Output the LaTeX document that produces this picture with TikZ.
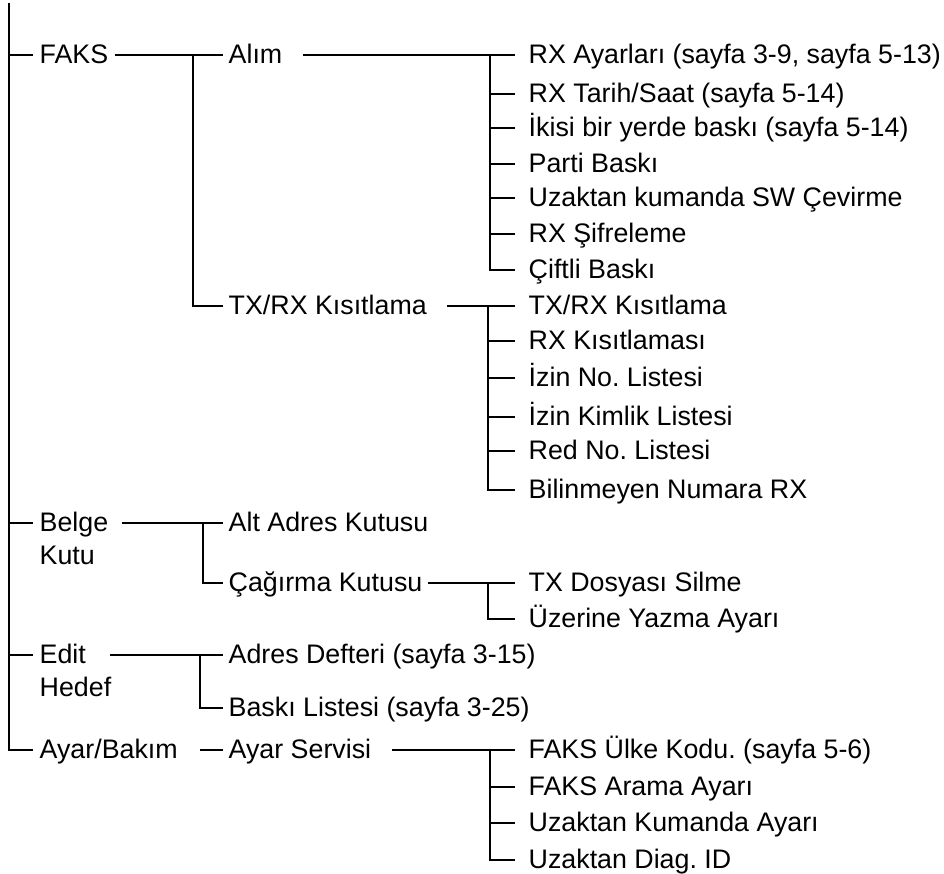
\documentclass[tikz,border=0pt]{standalone}
\usepackage{fontspec}
\setmainfont{Liberation Sans}
\usepackage{tikz}
\frenchspacing

\begin{document}
\begin{tikzpicture}[x=0.5pt, y=-0.5pt, line width=0.7pt,
  font=\fontsize{13.4pt}{16.5pt}\selectfont,
  item/.style={anchor=west, inner ysep=0pt, text height=8pt, text depth=0pt},
  topitem/.style={item, inner xsep=3pt},
  subitem/.style={item, inner xsep=2.5pt},
  leaf/.style={item, inner xsep=6.5pt}]
  \useasboundingbox (0,0) rectangle (944,874);
  \coordinate (root) at (9,3);

  % first level
  \node[topitem] (faks) at (33,55) {FAKS};
  \node[topitem] (belge) at (33,523) {\begin{tabular}[t]{@{}l@{}}Belge\\Kutu\end{tabular}};
  \node[topitem] (edit) at (33,655) {\begin{tabular}[t]{@{}l@{}}Edit\\Hedef\end{tabular}};
  \node[topitem] (ayar) at (33,750) {Ayar/Bakım};

  % second level
  \node[subitem] (alim) at (223,55) {Alım};
  \node[subitem] (txrx) at (223,306) {TX/RX Kısıtlama};
  \node[subitem] (altadres) at (223,523) {Alt Adres Kutusu};
  \node[subitem] (cagirma) at (223,583) {Çağırma Kutusu};
  \node[subitem] (adres) at (223,655) {Adres Defteri (sayfa 3-15)};
  \node[subitem] (liste) at (223,708) {Baskı Listesi (sayfa 3-25)};
  \node[subitem] (servis) at (223,750) {Ayar Servisi};

  % third level
  \node[leaf] (al1) at (515,55) {RX Ayarları (sayfa 3-9, sayfa 5-13)};
  \node[leaf] (al2) at (515,94) {RX Tarih/Saat (sayfa 5-14)};
  \node[leaf] (al3) at (515,128) {İkisi bir yerde baskı (sayfa 5-14)};
  \node[leaf] (al4) at (515,164) {Parti Baskı};
  \node[leaf] (al5) at (515,198) {Uzaktan kumanda SW Çevirme};
  \node[leaf] (al6) at (515,234) {RX Şifreleme};
  \node[leaf] (al7) at (515,270) {Çiftli Baskı};

  \node[leaf] (kx1) at (515,306) {TX/RX Kısıtlama};
  \node[leaf] (kx2) at (515,341) {RX Kısıtlaması};
  \node[leaf] (kx3) at (515,378) {İzin No. Listesi};
  \node[leaf] (kx4) at (515,417) {İzin Kimlik Listesi};
  \node[leaf] (kx5) at (515,451) {Red No. Listesi};
  \node[leaf] (kx6) at (515,490) {Bilinmeyen Numara RX};

  \node[leaf] (cg1) at (515,583) {TX Dosyası Silme};
  \node[leaf] (cg2) at (515,619) {Üzerine Yazma Ayarı};

  \node[leaf] (sv1) at (515,750) {FAKS Ülke Kodu. (sayfa 5-6)};
  \node[leaf] (sv2) at (515,787) {FAKS Arama Ayarı};
  \node[leaf] (sv3) at (515,823) {Uzaktan Kumanda Ayarı};
  \node[leaf] (sv4) at (515,860) {Uzaktan Diag. ID};

  % trunk
  \draw (root) |- (ayar.west);
  \draw (root |- faks.west) -- (faks.west);
  \draw (root |- belge.west) -- (belge.west);
  \draw (root |- edit.west) -- (edit.west);

  % FAKS
  \draw (faks.east) -- (alim.west);
  \draw ([xshift=-15pt]alim.west) |- (txrx.west);
  \draw ([xshift=7.5pt]alim.east) -- (al1.west);
  \draw ([xshift=-12.5pt]al1.west) |- (al7.west);
  \draw ([xshift=-12.5pt]al2.west) -- (al2.west);
  \draw ([xshift=-12.5pt]al3.west) -- (al3.west);
  \draw ([xshift=-12.5pt]al4.west) -- (al4.west);
  \draw ([xshift=-12.5pt]al5.west) -- (al5.west);
  \draw ([xshift=-12.5pt]al6.west) -- (al6.west);
  \draw ([xshift=7.5pt]txrx.east) -- (kx1.west);
  \draw ([xshift=-13.5pt]kx1.west) |- (kx6.west);
  \draw ([xshift=-13.5pt]kx2.west) -- (kx2.west);
  \draw ([xshift=-13.5pt]kx3.west) -- (kx3.west);
  \draw ([xshift=-13.5pt]kx4.west) -- (kx4.west);
  \draw ([xshift=-13.5pt]kx5.west) -- (kx5.west);

  % Belge Kutu
  \draw ([xshift=3.5pt]belge.east) -- (altadres.west);
  \draw ([xshift=-10pt]altadres.west) |- (cagirma.west);
  \draw (cagirma.east) -- (cg1.west);
  \draw ([xshift=-13.5pt]cg1.west) |- (cg2.west);

  % Edit Hedef
  \draw ([xshift=-4pt]edit.east) -- (adres.west);
  \draw ([xshift=-11.5pt]adres.west) |- (liste.west);

  % Ayar/Bakim
  \draw ([xshift=8pt]ayar.east) -- (servis.west);
  \draw ([xshift=7.5pt]servis.east) -- (sv1.west);
  \draw ([xshift=-12.5pt]sv1.west) |- (sv4.west);
  \draw ([xshift=-12.5pt]sv2.west) -- (sv2.west);
  \draw ([xshift=-12.5pt]sv3.west) -- (sv3.west);
\end{tikzpicture}
\end{document}
